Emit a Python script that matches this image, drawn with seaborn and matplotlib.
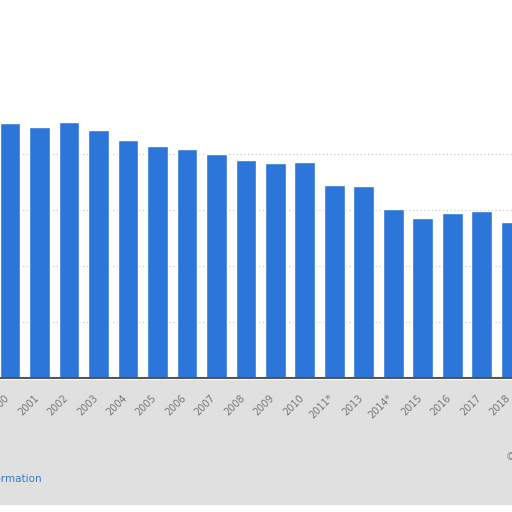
import numpy as np
import pandas as pd
import seaborn as sns
import matplotlib.pyplot as plt
import matplotlib.transforms as mtransforms
from matplotlib.patches import Rectangle

# values (no y labels visible, units = grid steps x 10)
years = ['2000', '2001', '2002', '2003', '2004', '2005', '2006', '2007', '2008',
         '2009', '2010', '2011*', '2013', '2014*', '2015', '2016', '2017', '2018']
values = [45.5, 44.8, 45.7, 44.3, 42.5, 41.4, 40.9, 40.0, 38.9,
          38.4, 38.6, 34.5, 34.3, 30.2, 28.6, 29.5, 29.8, 27.9]

df = pd.DataFrame({'year': years, 'value': values})

sns.set_theme(style='white')
plt.rcParams['font.family'] = ['DejaVu Sans']

fig = plt.figure(figsize=(5.12, 5.12), dpi=100)
fig.patch.set_facecolor('white')

# grey band under the plot area
band = Rectangle((0, 7 / 512), 1, (505 - 380) / 512, transform=fig.transFigure,
                 facecolor='#e0e0e0', edgecolor='none', zorder=-5)
fig.patches.append(band)

ax = fig.add_axes([0, (512 - 378) / 512, 1, (378 - 98) / 512])
ax.set_facecolor('white')
sns.barplot(data=df, x='year', y='value', color='#2b76d8', saturation=1,
            width=0.71, ax=ax, zorder=2)

ax.set_xlim(-0.34, 17.02)
ax.set_ylim(0, 50)
ax.set_yticks([10, 20, 30, 40])
ax.yaxis.grid(True, color='#c8c8c8', linestyle=(0, (1, 2)), linewidth=0.9, zorder=0)
ax.set_axisbelow(True)
ax.set_xlabel('')
ax.set_ylabel('')
ax.tick_params(axis='y', left=False, labelleft=False)
ax.tick_params(axis='x', length=0, pad=10.5, labelsize=7, labelcolor='#777777')
shift = mtransforms.ScaledTranslation(-6 / 100, 0, fig.dpi_scale_trans)
for lab in ax.get_xticklabels():
    lab.set_rotation(45)
    lab.set_ha('right')
    lab.set_rotation_mode('anchor')
    lab.set_transform(lab.get_transform() + shift)

for s in ['top', 'left', 'right']:
    ax.spines[s].set_visible(False)
ax.spines['bottom'].set_color('#555555')
ax.spines['bottom'].set_linewidth(1.5)
ax.spines['bottom'].set_zorder(3)

fig.text(42 / 512, 1 - 479 / 512, 'Additional Information', ha='right', va='center',
         fontsize=7.5, color='#3a7bbf')
fig.text(506 / 512, 1 - 457 / 512, '© Statista', ha='left', va='center',
         fontsize=7, color='#888888')

fig.savefig('out.png', dpi=100)
